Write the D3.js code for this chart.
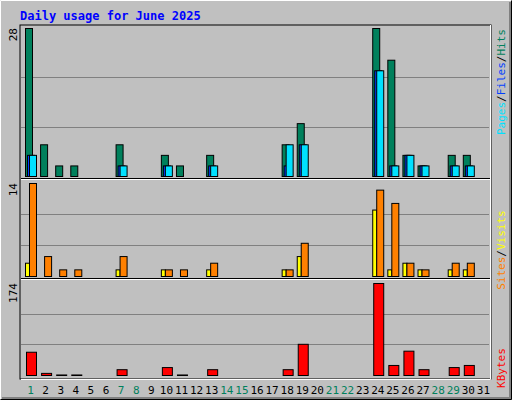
<!DOCTYPE html><html><head><script src="https://cdn.jsdelivr.net/npm/d3@7"></script>
<style>body{margin:0}</style></head><body><svg id="c" width="512" height="400"></svg><script>
const days=d3.range(1,32);
const weekend=[1,7,8,14,15,21,22,28,29];
const hits =[28,6,2,2,0,0,6,0,0,4,2,0,4,0,0,0,0,6,10,0,0,0,0,28,22,4,2,0,4,4,0];
const files=[4,0,0,0,0,0,2,0,0,2,0,0,2,0,0,0,0,2,6,0,0,0,0,20,2,4,2,0,2,2,0];
const pages=[4,0,0,0,0,0,2,0,0,2,0,0,2,0,0,0,0,6,6,0,0,0,0,20,2,4,2,0,2,2,0];
const sites=[2,0,0,0,0,0,1,0,0,1,0,0,1,0,0,0,0,1,3,0,0,0,0,10,1,2,1,0,1,1,0];
const visits=[14,3,1,1,0,0,3,0,0,1,1,0,2,0,0,0,0,1,5,0,0,0,0,13,11,2,1,0,2,2,0];
const kbytes=[44,4,1,1,0,0,11,0,0,15,1,0,11,0,0,0,0,11,59,0,0,0,0,174,19,46,11,0,15,19,0];
const svg=d3.select("#c");
svg.append("rect").attr("width",512).attr("height",400).attr("fill","#C0C0C0");
svg.append("path").attr("d","M0.5,399.5V0.5H511.5").attr("stroke","#fff").attr("fill","none");
svg.append("path").attr("d","M511.5,0.5V399.5H0.5").attr("stroke","#000").attr("fill","none");
svg.append("path").attr("d","M510,2V398H2").attr("stroke","#808080").attr("stroke-width",2).attr("fill","none");
svg.append("text").attr("x",20).attr("y",20).text("Daily usage for June 2025").attr("fill","#0000FF")
 .attr("font-family","DejaVu Sans Mono").attr("font-weight","bold").attr("font-size",12);
const x=d3.scaleBand().domain(days).range([21,489]).padding(0);
const L=21,R=490;
svg.append("rect").attr("x",L-1).attr("y",25).attr("width",R-L+2).attr("height",354).attr("fill","none").attr("stroke","#000");
svg.append("path").attr("d",`M${R+0.5},25V379.5H${L}`).attr("stroke","#fff").attr("fill","none");
function panel(top,bot,max){
  const y=d3.scaleLinear().domain([0,max]).range([bot,top+3]);
  [1/3,2/3].forEach(f=>svg.append("line").attr("x1",L).attr("x2",R-1).attr("y1",Math.round(bot-(bot-top-3)*f)+.5).attr("y2",Math.round(bot-(bot-top-3)*f)+.5).attr("stroke","#808080"));
  svg.append("text").attr("transform",`translate(17,${top+3}) rotate(-90)`).attr("text-anchor","end").attr("font-family","DejaVu Sans Mono").attr("font-size",11).text(max);
  return y;
}
function bars(y,data,off,w,col){
  svg.append("g").selectAll("rect").data(data.map((v,i)=>[i+1,v]).filter(d=>d[1]>0)).join("rect")
   .attr("x",d=>x(d[0])+off+.5).attr("width",w).attr("y",d=>y(d[1])+.5).attr("height",d=>y(0)-y(d[1]))
   .attr("fill",col).attr("stroke","#000");
}
const y1=panel(25,176,28);
bars(y1,hits,4,7,"#00805C");bars(y1,files,6,7,"#0040FF");bars(y1,pages,8,7,"#00E0FF");
svg.append("line").attr("x1",L).attr("x2",R).attr("y1",178.5).attr("y2",178.5).attr("stroke","#000");
svg.append("line").attr("x1",L).attr("x2",R).attr("y1",179.5).attr("y2",179.5).attr("stroke","#fff");
const y2=panel(180,276,14);
bars(y2,sites,4,4,"#FFFF00");bars(y2,visits,8,7,"#FF8000");
svg.append("line").attr("x1",L).attr("x2",R).attr("y1",278.5).attr("y2",278.5).attr("stroke","#000");
svg.append("line").attr("x1",L).attr("x2",R).attr("y1",279.5).attr("y2",279.5).attr("stroke","#fff");
const y3=panel(280,375,174);
bars(y3,kbytes,5,10,"#FF0000");
svg.append("g").selectAll("text").data(days).join("text").attr("x",d=>x(d)+x.bandwidth()/2+2).attr("y",394)
 .attr("text-anchor","middle").attr("font-family","DejaVu Sans Mono").attr("font-size",11)
 .attr("fill",d=>weekend.includes(d)?"#00805C":"#000").text(d=>d);
function rlabel(yc,parts){
  const t=svg.append("text").attr("transform",`translate(505,${yc}) rotate(-90)`).attr("font-family","DejaVu Sans Mono").attr("font-size",11).attr("text-anchor","middle");
  parts.forEach(p=>t.append("tspan").attr("fill",p[1]).text(p[0]));
}
rlabel(82,[["Pages","#00E0FF"],["/","#000"],["Files","#0040FF"],["/","#000"],["Hits","#00805C"]]);
rlabel(250,[["Sites","#FF8000"],["/","#000"],["Visits","#FFFF00"]]);
rlabel(368,[["KBytes","#FF0000"]]);
</script></body></html>
